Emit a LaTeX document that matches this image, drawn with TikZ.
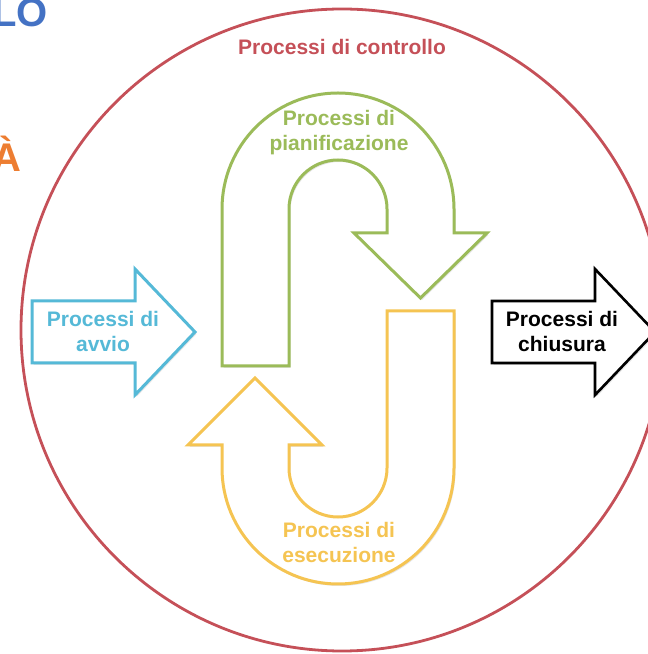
\documentclass[tikz,border=0pt]{standalone}
\usepackage{fontspec}
\setmainfont{Liberation Sans}
\usetikzlibrary{shadows}

\definecolor{ctrlred}{RGB}{197,80,88}
\definecolor{plangreen}{RGB}{155,187,89}
\definecolor{execyellow}{RGB}{245,196,82}
\definecolor{startcyan}{RGB}{85,185,215}
\definecolor{titleblue}{RGB}{68,114,196}
\definecolor{titleorange}{RGB}{237,125,49}

\begin{document}
\begin{tikzpicture}[x=1pt,y=1pt,
    procshape/.style={line width=3pt,fill=white,
      drop shadow={opacity=.2,shadow xshift=1.5pt,shadow yshift=-2pt}}]

      \useasboundingbox (0,0) rectangle (648,654);
      \clip (0,0) rectangle (648,654);

      % cerchio dei processi di controllo
      \draw[ctrlred,line width=2.8pt] (342,324) circle (321);

      % avvio e chiusura
      \path[procshape,draw=startcyan] (32,291) -- (32,353) -- (135,353) -- (135,385)
        -- (195,322) -- (135,259) -- (135,291) -- cycle;
      \path[procshape,draw=black,line width=2.6pt] (492,291) -- (492,353) -- (595,353) -- (595,385)
        -- (655,322) -- (595,259) -- (595,291) -- cycle;
      % pianificazione
      \path[procshape,draw=plangreen] (222,288) -- (222,445) arc[start angle=180,end angle=0,radius=116]
        -- (454,421) -- (487,421) -- (420.5,356) -- (354,421) -- (387,421) -- (387,445)
        arc[start angle=0,end angle=180,radius=49] -- (289,288) -- cycle;
      % esecuzione
      \path[procshape,draw=execyellow] (454,343) -- (454,186) arc[start angle=0,end angle=-180,radius=116]
        -- (222,209) -- (188,209) -- (255,276) -- (322,209) -- (289,209) -- (289,186)
        arc[start angle=180,end angle=360,radius=49] -- (387,343) -- cycle;

      \begin{scope}[every node/.style={font=\fontsize{21}{25}\selectfont\bfseries,
          align=center,anchor=base,inner sep=0pt}]
        \node[text=ctrlred]    (controllo)      at (342,599) {Processi di controllo};
        \node[text=plangreen]  (pianificazione) at (339,503) {Processi di\\pianificazione};
        \node[text=execyellow] (esecuzione)     at (339,91)  {Processi di\\esecuzione};
        \node[text=startcyan]  (avvio)          at (103,302) {Processi di\\avvio};
        \node[text=black]      (chiusura)       at (562,302) {Processi di\\chiusura};
      \end{scope}

      \begin{scope}[every node/.style={font=\fontsize{40}{48}\selectfont\bfseries,
          anchor=base east,inner sep=0pt}]
        \node[text=titleblue]   (lo) at (48,627) {LO};
        \node[text=titleorange] (a)  at (22,482) {À};
      \end{scope}

    \end{tikzpicture}
\end{document}
